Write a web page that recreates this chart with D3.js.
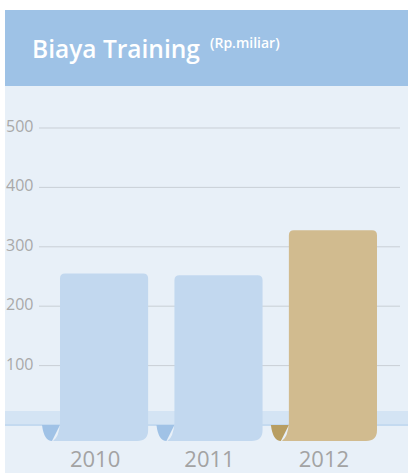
<!DOCTYPE html>
<html>
<head>
<meta charset="utf-8">
<script src="https://cdn.jsdelivr.net/npm/d3@7"></script>
<style>
  body { margin: 0; background: #fff; }
  svg { display: block; font-family: "Open Sans", "Noto Sans", sans-serif; }
</style>
</head>
<body>
<div id="chart"></div>
<script>
// ---------- data ----------
const years = ["2010", "2011", "2012"];
const costs = [255, 252, 328];
const highlight = ["2012"];
const yTicks = [100, 200, 300, 400, 500];

const width = 408;
const height = 473;

const svg = d3.select("#chart").append("svg")
    .attr("width", width)
    .attr("height", height);

// panel + header
svg.append("rect")
    .attr("x", 5).attr("y", 10)
    .attr("width", width - 5).attr("height", height - 10)
    .attr("fill", "#e8f0f8");

svg.append("rect")
    .attr("x", 5).attr("y", 10)
    .attr("width", width - 5).attr("height", 76)
    .attr("fill", "#9ec2e6");

const title = svg.append("text")
    .attr("x", 32).attr("y", 58)
    .attr("fill", "#fff")
    .style("font-size", "24.5px")
    .style("font-weight", "600");
title.append("tspan").text("Biaya Training");
title.append("tspan")
    .attr("x", 210).attr("dy", -10)
    .style("font-size", "14px")
    .text("(Rp.miliar)");

// scales
const y = d3.scaleLinear().domain([0, 500]).range([425, 128]);
const x = d3.scaleBand().domain(years).range([60, 377]).paddingInner(0.23).paddingOuter(0);

// gridlines + labels
const grid = svg.append("g");
grid.selectAll("line")
    .data(yTicks)
    .join("line")
    .attr("x1", 39).attr("x2", 400)
    .attr("y1", d => y(d)).attr("y2", d => y(d))
    .attr("stroke", "#c9cfd6")
    .attr("stroke-width", 1);

grid.selectAll("text")
    .data(yTicks)
    .join("text")
    .attr("x", 6)
    .attr("y", d => y(d) + 4)
    .attr("fill", "#a9a9a9")
    .style("font-size", "16px")
    .text(d => d);

// base band
svg.append("rect")
    .attr("x", 5).attr("y", 411)
    .attr("width", width - 5).attr("height", 13)
    .attr("fill", "#d4e4f4");
svg.append("rect")
    .attr("x", 5).attr("y", 424)
    .attr("width", width - 5).attr("height", 2)
    .attr("fill", "#c4daf0");

// bars with curled bottom-left
const base = y(0);
const curlBottom = 441;
const bars = svg.append("g")
    .selectAll("g")
    .data(years.map((yr, i) => ({ year: yr, value: costs[i] })))
    .join("g");

bars.append("path")
    .attr("fill", d => highlight.includes(d.year) ? "#b89e62" : "#a0c2e6")
    .attr("d", d => {
        const x0 = x(d.year);
        return `M${x0 - 18},${base} Q${x0 - 16},${curlBottom} ${x0 - 8},${curlBottom} L${x0},${base} Z`;
    });

bars.append("path")
    .attr("fill", d => highlight.includes(d.year) ? "#d1bb8f" : "#c2d8ef")
    .attr("d", d => {
        const x0 = x(d.year);
        const x1 = x0 + x.bandwidth();
        const top = y(d.value);
        const r = 5, R = 11;
        return `M${x0},${top + r} Q${x0},${top} ${x0 + r},${top}` +
            ` L${x1 - r},${top} Q${x1},${top} ${x1},${top + r}` +
            ` L${x1},${curlBottom - R} Q${x1},${curlBottom} ${x1 - R},${curlBottom}` +
            ` L${x0 - 7},${curlBottom} Q${x0 - 1},${curlBottom - 4} ${x0},${base - 2} Z`;
    });

// year labels
svg.append("g")
    .selectAll("text")
    .data(years)
    .join("text")
    .attr("x", d => x(d) - 18 + (x.bandwidth() + 18) / 2)
    .attr("y", 467)
    .attr("text-anchor", "middle")
    .attr("fill", "#a3a3a3")
    .style("font-size", "22px")
    .text(d => d);
</script>
</body>
</html>
